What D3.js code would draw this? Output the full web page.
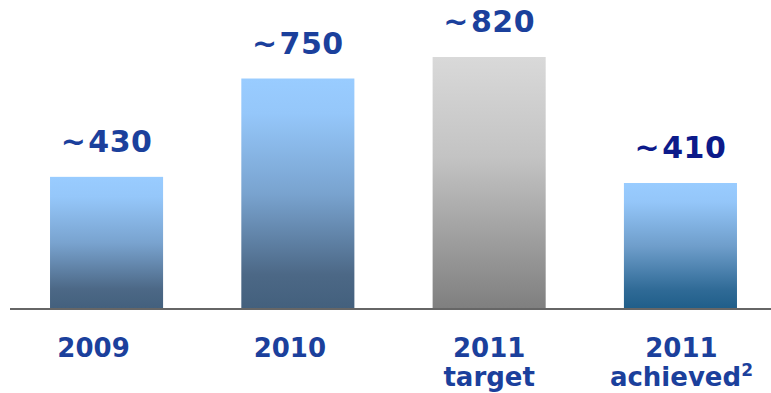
<!DOCTYPE html>
<html>
<head>
<meta charset="utf-8">
<script src="https://cdn.jsdelivr.net/npm/d3@7"></script>
<style>
  html, body { margin: 0; padding: 0; background: #fff; }
  svg { display: block; }
</style>
</head>
<body>
<svg id="chart" width="771" height="393"></svg>
<script>
// Category labels (first line / second line) and values
const categories = ["2009", "2010", "2011", "2011"];
const subLabels = ["", "", "target", "achieved"];
const values = [430, 750, 820, 410];
const valueLabels = ["~430", "~750", "~820", "~410"];

// Presentation: gradient per bar, label colours, small horizontal nudges
const barFill = ["gradBlue", "gradBlue", "gradGrey", "gradTeal"];
const valueColor = ["#1b409c", "#1b409c", "#1b409c", "#0c1a8a"];
const catShift = [-13, -8, 0, 1];

const W = 771, H = 393;
const svg = d3.select("#chart");

const defs = svg.append("defs");
function gradient(id, stops) {
  const g = defs.append("linearGradient").attr("id", id)
    .attr("x1", 0).attr("y1", 0).attr("x2", 0).attr("y2", 1);
  stops.forEach(([o, c]) => g.append("stop").attr("offset", o).attr("stop-color", c));
}
gradient("gradBlue", [[0, "#99ccff"], [0.15, "#95c7fa"], [0.5, "#79a3cf"], [0.85, "#4c6886"], [1, "#43607d"]]);
gradient("gradGrey", [[0, "#d9d9d9"], [0.4, "#c3c3c3"], [1, "#7f7f7f"]]);
gradient("gradTeal", [[0, "#99ccff"], [0.15, "#94c6f9"], [0.5, "#6f9ecb"], [0.85, "#2f6a96"], [1, "#1f5e89"]]);

const idx = d3.range(values.length);
const x = d3.scaleBand()
  .domain(idx)
  .range([10.9, 776.1])
  .paddingInner(0.409)
  .paddingOuter(0.2045);

const baseY = 309;
const y = d3.scaleLinear().domain([0, 820]).range([baseY, 57]);

// Bars
svg.append("g").selectAll("rect")
  .data(idx)
  .join("rect")
  .attr("x", i => x(i))
  .attr("y", i => y(values[i]))
  .attr("width", x.bandwidth())
  .attr("height", i => y(0) - y(values[i]))
  .attr("fill", i => `url(#${barFill[i]})`);

// Baseline
svg.append("line")
  .attr("x1", 10).attr("x2", W)
  .attr("y1", baseY).attr("y2", baseY)
  .attr("stroke", "#666666").attr("stroke-width", 2);

const font = "'DejaVu Sans', Verdana, sans-serif";

// Value labels above bars: tilde set slightly apart from the number
const vl = svg.append("g").selectAll("text")
  .data(idx)
  .join("text")
  .attr("x", i => x(i) + x.bandwidth() / 2)
  .attr("y", i => y(values[i]) - 25)
  .attr("text-anchor", "middle")
  .attr("font-family", font)
  .attr("font-weight", "bold")
  .attr("font-size", 30)
  .attr("letter-spacing", 0.5)
  .attr("fill", i => valueColor[i]);

vl.append("tspan")
  .text(i => valueLabels[i].slice(0, 1));
vl.append("tspan")
  .attr("dx", 2)
  .text(i => valueLabels[i].slice(1));

// Category labels
const cat = svg.append("g").selectAll("text")
  .data(idx)
  .join("text")
  .attr("text-anchor", "middle")
  .attr("font-family", font)
  .attr("font-weight", "bold")
  .attr("font-size", 26)
  .attr("fill", "#1b409c");

cat.append("tspan")
  .attr("x", i => x(i) + x.bandwidth() / 2 + catShift[i])
  .attr("y", 357)
  .text(i => categories[i]);

cat.filter(i => subLabels[i] !== "")
  .append("tspan")
  .attr("x", i => x(i) + x.bandwidth() / 2 + catShift[i])
  .attr("y", 386)
  .text(i => subLabels[i]);

// Footnote marker on "achieved"
cat.filter(i => subLabels[i] === "achieved")
  .append("tspan")
  .attr("font-size", 17)
  .attr("dy", -10)
  .text("2");
</script>
</body>
</html>
